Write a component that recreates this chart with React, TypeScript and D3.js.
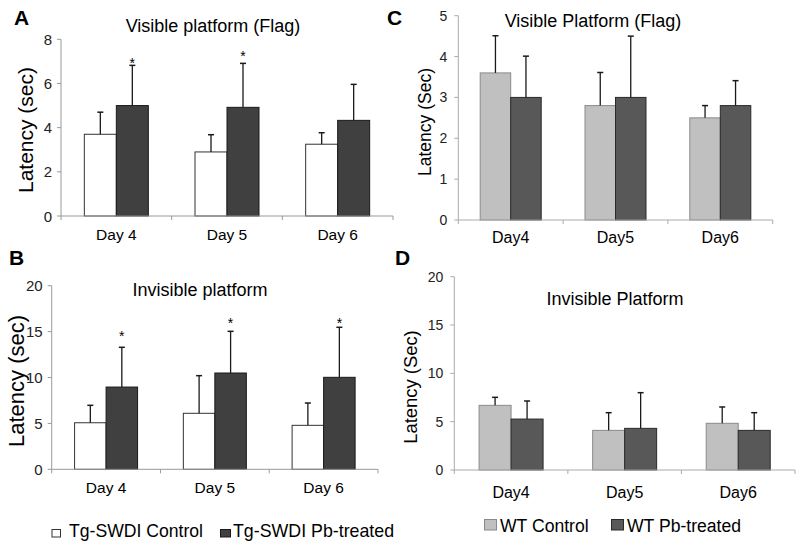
import React from "react";
import * as d3 from "d3";

// ---------- data ----------
const daysTg = ["Day 4", "Day 5", "Day 6"];
const daysWT = ["Day4", "Day5", "Day6"];
const seriesTg = ["Tg-SWDI Control", "Tg-SWDI Pb-treated"];
const seriesWT = ["WT Control", "WT Pb-treated"];

// Panel A: Tg-SWDI, visible platform (Flag)
const aControl = [3.7, 2.9, 3.25];
const aControlErr = [1.0, 0.78, 0.52];
const aPb = [5.0, 4.92, 4.33];
const aPbErr = [1.82, 1.99, 1.63];
const aStars = [7.07, 7.37, null];

// Panel B: Tg-SWDI, invisible platform
const bControl = [5.07, 6.1, 4.79];
const bControlErr = [1.9, 4.1, 2.43];
const bPb = [8.96, 10.49, 10.02];
const bPbErr = [4.33, 4.54, 5.45];
const bStars = [14.85, 16.26, 16.26];

// Panel C: WT, visible platform (Flag)
const cControl = [3.6, 2.8, 2.5];
const cControlErr = [0.91, 0.81, 0.3];
const cPb = [3.0, 3.0, 2.8];
const cPbErr = [1.01, 1.5, 0.61];

// Panel D: WT, invisible platform
const dControl = [6.69, 4.1, 4.83];
const dControlErr = [0.83, 1.83, 1.69];
const dPb = [5.27, 4.31, 4.1];
const dPbErr = [1.87, 3.69, 1.83];

const ticksA = [0, 2, 4, 6, 8];
const ticksB = [0, 5, 10, 15, 20];
const ticksC = [0, 1, 2, 3, 4, 5];
const ticksD = [0, 5, 10, 15, 20];

const FONT = "'Liberation Sans', Arial, sans-serif";

type PanelProps = {
  letter: string;
  letterX: number;
  letterY: number;
  title: string;
  titleX: number;
  titleY: number;
  titleSize: number;
  yLabel: string;
  yLabelX: number;
  yLabelY: number;
  yLabelSize: number;
  x0: number;
  x1: number;
  yTop: number;
  yBottom: number;
  ticks: number[];
  tickSize: number;
  tickGap: number;
  days: string[];
  dayY: number;
  daySize: number;
  barW: number;
  vals: number[][];
  errs: number[][];
  fills: string[];
  strokes: string[];
  stars?: (number | null)[];
  axisColor: string;
};

function Panel(p: PanelProps) {
  const maxV = p.ticks[p.ticks.length - 1];
  const y = d3.scaleLinear().domain([0, maxV]).range([p.yBottom, p.yTop]);
  const x = d3.scaleBand<string>().domain(p.days).range([p.x0, p.x1]).padding(0);
  const boundaries = d3.range(p.days.length + 1).map((i) => p.x0 + i * x.step());
  return (
    <g>
      <text x={p.letterX} y={p.letterY} fontFamily={FONT} fontWeight="bold" fontSize={21} fill="#000">
        {p.letter}
      </text>
      <text x={p.titleX} y={p.titleY} textAnchor="middle" fontFamily={FONT} fontSize={p.titleSize} fill="#000">
        {p.title}
      </text>
      <text
        transform={`translate(${p.yLabelX},${p.yLabelY}) rotate(-90)`}
        textAnchor="middle"
        dominantBaseline="central"
        fontFamily={FONT}
        fontSize={p.yLabelSize}
        fill="#000"
      >
        {p.yLabel}
      </text>
      {/* y axis */}
      <line x1={p.x0} x2={p.x0} y1={p.yTop} y2={p.yBottom} stroke={p.axisColor} strokeWidth={1} />
      {p.ticks.map((t) => (
        <g key={t}>
          <line x1={p.x0 - 4} x2={p.x0} y1={y(t)} y2={y(t)} stroke={p.axisColor} strokeWidth={1} />
          <text
            x={p.x0 - p.tickGap}
            y={y(t)}
            textAnchor="end"
            dominantBaseline="central"
            fontFamily={FONT}
            fontSize={p.tickSize}
            fill="#222"
          >
            {t}
          </text>
        </g>
      ))}
      {/* bars */}
      {p.days.map((d, i) => {
        const c = (x(d) as number) + x.bandwidth() / 2;
        const inner = d3
          .scaleBand<number>()
          .domain(p.vals.map((_, k) => k))
          .range([c - p.barW * p.vals.length / 2, c + p.barW * p.vals.length / 2]);
        return (
          <g key={d}>
            {p.vals.map((series, k) => {
              const bx = inner(k) as number;
              const cx = bx + inner.bandwidth() / 2;
              const v = series[i];
              const e = p.errs[k][i];
              return (
                <g key={k}>
                  <rect
                    x={bx}
                    y={y(v)}
                    width={inner.bandwidth()}
                    height={p.yBottom - y(v)}
                    fill={p.fills[k]}
                    stroke={p.strokes[k]}
                    strokeWidth={1}
                  />
                  <line x1={cx} x2={cx} y1={y(v)} y2={y(v + e)} stroke="#1a1a1a" strokeWidth={1.3} />
                  <line x1={cx - 3} x2={cx + 3} y1={y(v + e)} y2={y(v + e)} stroke="#1a1a1a" strokeWidth={1.5} />
                </g>
              );
            })}
            {p.stars && p.stars[i] != null ? (
              <text
                x={(inner(1) as number) + inner.bandwidth() / 2}
                y={y(p.stars[i] as number) + 8}
                textAnchor="middle"
                fontFamily={FONT}
                fontSize={14}
                fill="#000"
              >
                *
              </text>
            ) : null}
            <text x={c} y={p.dayY} textAnchor="middle" fontFamily={FONT} fontSize={p.daySize} fill="#000">
              {d}
            </text>
          </g>
        );
      })}
      {/* x axis */}
      <line x1={p.x0} x2={p.x1} y1={p.yBottom} y2={p.yBottom} stroke={p.axisColor} strokeWidth={1} />
      {boundaries.map((bx, i) => (
        <line key={i} x1={bx} x2={bx} y1={p.yBottom} y2={p.yBottom + 4} stroke={p.axisColor} strokeWidth={1} />
      ))}
    </g>
  );
}

export default function App() {
  const tgFills = ["#ffffff", "#404040"];
  const tgStrokes = ["#333333", "#1a1a1a"];
  const wtFills = ["#c0c0c0", "#585858"];
  const wtStrokes = ["#8a8a8a", "#2a2a2a"];
  return (
    <svg
      width={800}
      height={546}
      style={{ position: "absolute", left: 0, top: 0, background: "#fff" }}
    >
      <rect x={0} y={0} width={800} height={546} fill="#fff" />
      <Panel
        letter="A" letterX={14} letterY={25}
        title="Visible platform (Flag)" titleX={213} titleY={32} titleSize={18}
        yLabel="Latency (sec)" yLabelX={25} yLabelY={130} yLabelSize={21}
        x0={61} x1={393} yTop={39.3} yBottom={216}
        ticks={ticksA} tickSize={15} tickGap={9}
        days={daysTg} dayY={240} daySize={15.5} barW={32}
        vals={[aControl, aPb]} errs={[aControlErr, aPbErr]}
        fills={tgFills} strokes={tgStrokes} stars={aStars} axisColor="#999"
      />
      <Panel
        letter="B" letterX={9} letterY={265}
        title="Invisible platform" titleX={200} titleY={296} titleSize={18}
        yLabel="Latency (sec)" yLabelX={16} yLabelY={381} yLabelSize={22}
        x0={51.7} x1={378} yTop={285.7} yBottom={469.3}
        ticks={ticksB} tickSize={15} tickGap={9}
        days={daysTg} dayY={493} daySize={15.5} barW={31.5}
        vals={[bControl, bPb]} errs={[bControlErr, bPbErr]}
        fills={tgFills} strokes={tgStrokes} stars={bStars} axisColor="#999"
      />
      <Panel
        letter="C" letterX={387} letterY={25}
        title="Visible Platform (Flag)" titleX={593} titleY={27} titleSize={18}
        yLabel="Latency (Sec)" yLabelX={425} yLabelY={122} yLabelSize={17.5}
        x0={458.3} x1={772.7} yTop={15.7} yBottom={220}
        ticks={ticksC} tickSize={14} tickGap={11}
        days={daysWT} dayY={243} daySize={16} barW={30.5}
        vals={[cControl, cPb]} errs={[cControlErr, cPbErr]}
        fills={wtFills} strokes={wtStrokes} axisColor="#aaa"
      />
      <Panel
        letter="D" letterX={395} letterY={265}
        title="Invisible Platform" titleX={615} titleY={305} titleSize={18}
        yLabel="Latency (Sec)" yLabelX={410} yLabelY={387} yLabelSize={18.4}
        x0={454.3} x1={795} yTop={276.7} yBottom={470}
        ticks={ticksD} tickSize={14} tickGap={11}
        days={daysWT} dayY={498} daySize={16} barW={32}
        vals={[dControl, dPb]} errs={[dControlErr, dPbErr]}
        fills={wtFills} strokes={wtStrokes} axisColor="#aaa"
      />
      {/* legend Tg */}
      <g fontFamily={FONT} fill="#000">
        <rect x={52} y={529.5} width={8.5} height={7.5} fill={tgFills[0]} stroke="#333" />
        <text x={69} y={537.3} fontSize={17.6}>{seriesTg[0]}</text>
        <rect x={220.5} y={529.5} width={10} height={7.5} fill={tgFills[1]} stroke="#1a1a1a" />
        <text x={233} y={537.3} fontSize={17.8}>{seriesTg[1]}</text>
      </g>
      {/* legend WT */}
      <g fontFamily={FONT} fill="#000">
        <rect x={484.5} y={519.5} width={12} height={10.5} fill={wtFills[0]} stroke="#8a8a8a" />
        <text x={500} y={531.5} fontSize={17.6}>{seriesWT[0]}</text>
        <rect x={611.5} y={519.5} width={12} height={10.5} fill={wtFills[1]} stroke="#2a2a2a" />
        <text x={627} y={531.5} fontSize={17.6}>{seriesWT[1]}</text>
      </g>
    </svg>
  );
}
